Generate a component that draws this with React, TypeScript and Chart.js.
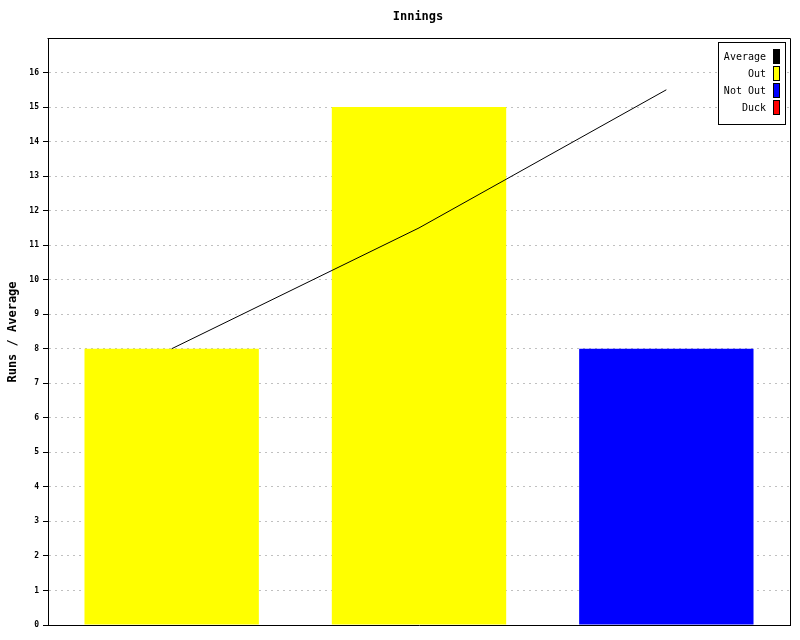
import React, { useEffect, useRef } from "react";
import { Chart, registerables } from "chart.js";

Chart.register(...registerables);

const categories = ["Innings 1", "Innings 2", "Innings 3"];
const averageValues = [8, 11.5, 15.5];
const outValues: (number | null)[] = [8, 15, null];
const notOutValues: (number | null)[] = [null, null, 8];
const duckValues: (number | null)[] = [null, null, null];
const yTicks = [0, 1, 2, 3, 4, 5, 6, 7, 8, 9, 10, 11, 12, 13, 14, 15, 16];
const chartTitle = "Innings";
const yTitle = "Runs / Average";

const MONO = "'DejaVu Sans Mono', 'Liberation Mono', monospace";

const framePlugin = {
  id: "framePlugin",
  afterDraw(chart: any) {
    const { ctx, chartArea } = chart;
    const { left, right, top, bottom } = chartArea;
    ctx.save();
    ctx.strokeStyle = "#000";
    ctx.lineWidth = 1;
    ctx.beginPath();
    ctx.moveTo(Math.round(left) - 0.5, Math.round(top) + 0.5);
    ctx.lineTo(Math.round(right) + 0.5, Math.round(top) + 0.5);
    ctx.lineTo(Math.round(right) + 0.5, Math.round(bottom) + 0.5);
    ctx.stroke();

    ctx.fillStyle = "#000";
    ctx.font = `bold 12px ${MONO}`;
    ctx.textAlign = "center";
    ctx.textBaseline = "middle";
    ctx.fillText(chartTitle, 418, 17);

    ctx.save();
    ctx.translate(13, 332);
    ctx.rotate(-Math.PI / 2);
    ctx.fillText(yTitle, 0, 0);
    ctx.restore();

    const ds = chart.data.datasets;
    const bx = 718, by = 42, bw = 67, bh = 82;
    ctx.fillStyle = "#fff";
    ctx.fillRect(bx, by, bw, bh);
    ctx.strokeStyle = "#000";
    ctx.strokeRect(bx + 0.5, by + 0.5, bw, bh);
    ctx.font = `10px ${MONO}`;
    ctx.textAlign = "right";
    ctx.textBaseline = "middle";
    ds.forEach((d: any, i: number) => {
      const cy = 57 + i * 17;
      ctx.fillStyle = "#000";
      ctx.fillText(d.label, 766, cy);
      ctx.fillStyle = d.legendColor;
      ctx.fillRect(773, cy - 8, 7, 15);
      ctx.strokeStyle = "#000";
      ctx.strokeRect(773.5, cy - 7.5, 6, 14);
    });
    ctx.restore();
  },
};

export default function App() {
  const ref = useRef<HTMLCanvasElement>(null);
  useEffect(() => {
    document.body.style.margin = "0";
    const canvas = ref.current!;
    const chart = new Chart(canvas, {
      type: "bar",
      data: {
        labels: categories,
        datasets: [
          {
            type: "line",
            label: "Average",
            data: averageValues,
            borderColor: "#000",
            borderWidth: 1,
            pointRadius: 0,
            fill: false,
            tension: 0,
            legendColor: "#000",
          } as any,
          {
            label: "Out",
            data: outValues,
            backgroundColor: "#ffff00",
            grouped: false,
            legendColor: "#ffff00",
          } as any,
          {
            label: "Not Out",
            data: notOutValues,
            backgroundColor: "#0000ff",
            grouped: false,
            legendColor: "#0000ff",
          } as any,
          {
            label: "Duck",
            data: duckValues,
            backgroundColor: "#ff0000",
            grouped: false,
            legendColor: "#ff0000",
          } as any,
        ],
      },
      options: {
        responsive: false,
        animation: false,
        layout: { padding: { top: 38, right: 10, left: 0, bottom: 0 } },
        datasets: {
          bar: { barPercentage: 0.705, categoryPercentage: 1 },
        } as any,
        plugins: {
          legend: { display: false },
          title: { display: false },
          tooltip: { enabled: false },
        },
        scales: {
          x: {
            ticks: { display: false },
            grid: { display: false, drawTicks: false },
            border: { display: true, color: "#000", width: 1 },
            afterFit(scale: any) {
              scale.height = 15;
            },
          },
          y: {
            min: 0,
            max: 17,
            z: 1,
            afterBuildTicks(scale: any) {
              scale.ticks = yTicks.map((v) => ({ value: v }));
            },
            afterFit(scale: any) {
              scale.width = 48;
            },
            ticks: {
              font: { family: MONO, size: 8, weight: "bold" },
              color: "#000",
              padding: 4,
              autoSkip: false,
            },
            grid: {
              color: "#c0c0c0",
              tickColor: "#000",
              tickLength: 5,
              tickBorderDash: [],
              lineWidth: 1,
            },
            border: { display: true, color: "#000", width: 1, dash: [2, 4] },
          },
        },
      },
      plugins: [framePlugin],
    });
    return () => chart.destroy();
  }, []);
  return <canvas ref={ref} width={800} height={640} style={{ display: "block" }} />;
}
